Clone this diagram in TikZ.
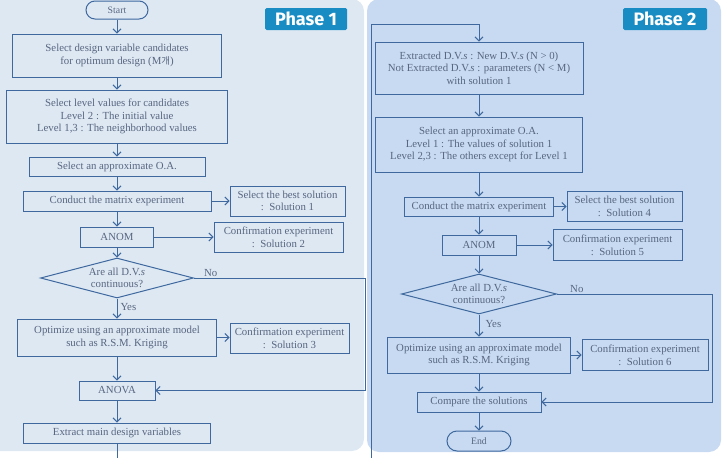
\documentclass[tikz,border=0pt]{standalone}
\usepackage{fontspec}
\setmainfont{Liberation Serif}
\newfontfamily\flowfont{Liberation Serif}
\newfontfamily\hangulfont{Noto Sans CJK KR}
\newfontfamily\phasefont{Fira Sans}
\usetikzlibrary{arrows.meta,shapes.geometric,shapes.misc}

\definecolor{panelA}{RGB}{222,232,243}
\definecolor{panelB}{RGB}{199,218,241}
\definecolor{flowline}{RGB}{62,104,158}
\definecolor{flowtext}{RGB}{88,102,128}
\definecolor{phasebg}{RGB}{26,140,196}

\begin{document}
\begin{tikzpicture}[
    x=1pt, y=-1pt,
    >={Straight Barb[length=4pt,width=8pt]},
    flow/.style={draw=flowline, line width=1pt},
    box/.style={
        rectangle,
        draw=flowline,
        line width=0.9pt,
        text=flowtext,
        font=\flowfont\fontsize{10.8}{12.6}\selectfont,
        align=center,
        inner sep=0pt
    },
    terminal/.style={
        rounded rectangle,
        draw=flowline,
        line width=1pt,
        text=flowtext,
        font=\flowfont\fontsize{9.8}{11}\selectfont,
        inner sep=0pt
    },
    decision/.style={
        diamond,
        aspect=3.8,
        draw=flowline,
        line width=1pt,
        text=flowtext,
        font=\flowfont\fontsize{10.8}{12.6}\selectfont,
        align=center,
        inner sep=0pt
    },
    tag/.style={
        fill=phasebg,
        text=white,
        rounded corners=1.5pt,
        font=\phasefont\bfseries\fontsize{18}{18}\selectfont,
        inner sep=0pt
    },
    answer/.style={
        text=flowtext,
        font=\flowfont\fontsize{10.8}{12}\selectfont,
        inner sep=1pt
    }
]
\useasboundingbox (0,0) rectangle (724,458);
\clip (0,0) rectangle (724,458);

% Panels
\fill[panelA, rounded corners=12pt] (-15,-1) rectangle (364,451);
\fill[panelB, rounded corners=12pt] (367,-1) rectangle (721,452);
\node[tag, minimum width=82pt, minimum height=22pt] (phase1) at (306,19) {Phase 1};
\node[tag, minimum width=84pt, minimum height=22pt] (phase2) at (665,19) {Phase 2};

% Phase 1
\node[terminal, minimum width=62pt, minimum height=18pt] (start) at (117,10) {Start};
\node[box, minimum width=209pt, minimum height=43pt] (cand) at (117,55.5) {Select design variable candidates\\for optimum design (M{\hangulfont\fontsize{9.5}{11}\selectfont 개})};
\node[box, minimum width=221pt, minimum height=53pt] (level) at (117,116.5) {Select level values for candidates\\Level 2 : The initial value\\Level 1,3 : The neighborhood values};
\node[box, minimum width=176pt, minimum height=19pt] (oa) at (117,166.5) {Select an approximate O.A.};
\node[box, minimum width=188pt, minimum height=20pt] (matrix) at (117,201) {Conduct the matrix experiment};
\node[box, minimum width=115pt, minimum height=30pt] (best) at (287.5,201) {Select the best solution\\:\ \ Solution 1};
\node[box, minimum width=73pt, minimum height=20pt] (anom) at (117,237) {ANOM};
\node[box, minimum width=129pt, minimum height=30pt] (conf) at (278.5,237) {Confirmation experiment\\:\ \ Solution 2};
\node[decision, minimum width=153pt, minimum height=40pt] (cont) at (117,278) {Are all D.V.\textit{s}\\continuous?};
\node[box, minimum width=199pt, minimum height=37pt] (model) at (117,337.5) {Optimize using an approximate model\\such as R.S.M. Kriging};
\node[box, minimum width=119pt, minimum height=30pt] (confm) at (289.5,338) {Confirmation experiment\\:\ \ Solution 3};
\node[box, minimum width=76pt, minimum height=19pt] (anova) at (117,390.5) {ANOVA};
\node[box, minimum width=187pt, minimum height=20pt] (extract) at (117,433) {Extract main design variables};

% Phase 2
\node[box, minimum width=208pt, minimum height=52pt] (newdv) at (479,68) {Extracted D.V.\textit{s} : New D.V.\textit{s} (N > 0)\\Not Extracted D.V.\textit{s} : parameters (N < M)\\with solution 1};
\node[box, minimum width=207pt, minimum height=55pt] (oa2) at (479,144.5) {Select an approximate O.A.\\Level 1 : The values of solution 1\\Level 2,3 : The others except for Level 1};
\node[box, minimum width=149pt, minimum height=19pt] (matrix2) at (479,206.5) {Conduct the matrix experiment};
\node[box, minimum width=115pt, minimum height=30pt] (best2) at (624.5,206.5) {Select the best solution\\:\ \ Solution 4};
\node[box, minimum width=74pt, minimum height=20pt] (anom2) at (479,245) {ANOM};
\node[box, minimum width=129pt, minimum height=31pt] (conf2) at (617.5,245) {Confirmation experiment\\:\ \ Solution 5};
\node[decision, minimum width=155pt, minimum height=40pt] (cont2) at (479,294) {Are all D.V.\textit{s}\\continuous?};
\node[box, minimum width=183pt, minimum height=36pt] (model2) at (479,355) {Optimize using an approximate model\\such as R.S.M. Kriging};
\node[box, minimum width=126pt, minimum height=31pt] (confm2) at (645,355) {Confirmation experiment\\:\ \ Solution 6};
\node[box, minimum width=124pt, minimum height=20pt] (compare) at (479,402) {Compare the solutions};
\node[terminal, minimum width=64pt, minimum height=20pt] (end) at (479,441) {End};

% Main flow
\foreach \a/\b in {start/cand, cand/level, level/oa, oa/matrix, matrix/anom, anom/cont,
    model/anova, anova/extract, newdv/oa2, oa2/matrix2, matrix2/anom2, anom2/cont2,
    model2/compare, compare/end}
    \draw[flow,->] (\a.south) -- (\a.south |- \b.north);
\draw[flow,->] (cont.south) -- node[answer, right=2pt, pos=0.4] (yes1) {Yes} (cont.south |- model.north);
\draw[flow,->] (cont2.south) -- node[answer, right=5pt, pos=0.45] (yes2) {Yes} (cont2.south |- model2.north);

% Side results
\foreach \a/\b in {matrix/best, anom/conf, model/confm, matrix2/best2, anom2/conf2, model2/confm2}
    \draw[flow,->] (\a.east) -- (\a.east -| \b.west);

% No branches
\coordinate (noleft) at (365,278);
\coordinate (noright) at (712,294);
\draw[flow,->] (cont.east) -- (noleft) |- (anova.east);
\draw[flow,->] (cont2.east) -- (noright) |- (compare.east);
\node[answer, anchor=south west] (no1) at ([xshift=9pt]cont.east) {No};
\node[answer, anchor=south west] (no2) at ([xshift=12pt]cont2.east) {No};

% Phase link
\coordinate (linkbottom) at (371,475);
\coordinate (linktop) at (371,24);
\draw[flow,->] (extract.south) |- (linkbottom) -- (linktop) -| (newdv.north);

\end{tikzpicture}
\end{document}
